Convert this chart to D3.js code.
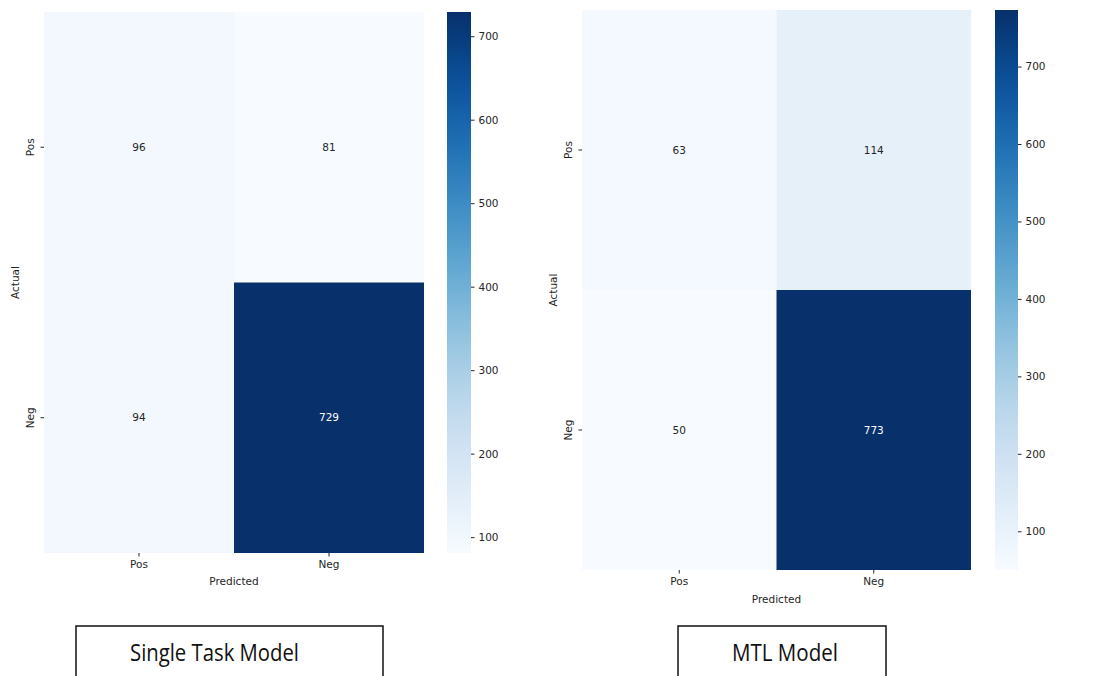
<!DOCTYPE html>
<html>
<head>
<meta charset="utf-8">
<script src="https://cdn.jsdelivr.net/npm/d3@7"></script>
<style>
  body { margin: 0; background: #fff; }
  text { font-family: "DejaVu Sans", sans-serif; }
</style>
</head>
<body>
<svg id="chart" width="1093" height="676"></svg>
<script>
// labels and confusion matrices (rows = actual, cols = predicted)
const classLabels = ["Pos", "Neg"];
const stmMatrix = [[96, 81], [94, 729]];
const mtlMatrix = [[63, 114], [50, 773]];
const cbTicks = [100, 200, 300, 400, 500, 600, 700];
const titles = ["Single Task Model", "MTL Model"];

// layout of the two panels
const panels = [
  { matrix: stmMatrix, title: titles[0], x0: 44, x1: 424, y0: 12, y1: 553, cb: [447, 471],
    box: [76, 383], titleX: 130, titleW: 169, actualX: 15, predY: 585 },
  { matrix: mtlMatrix, title: titles[1], x0: 582, x1: 971, y0: 10, y1: 570, cb: [995, 1018],
    box: [678, 886], titleX: 732, titleW: 106, actualX: 553, predY: 603 }
];

const svg = d3.select("#chart");
const defs = svg.append("defs");
const textColor = "#262626";

panels.forEach((p, i) => {
  const g = svg.append("g");
  const cells = [];
  p.matrix.forEach((row, r) => row.forEach((v, c) => cells.push({ r, c, v })));

  const x = d3.scaleBand().domain(classLabels).range([p.x0, p.x1]);
  const y = d3.scaleBand().domain(classLabels).range([p.y0, p.y1]);
  const ext = d3.extent(cells, d => d.v);
  const color = d3.scaleSequential(d3.interpolateBlues).domain(ext);

  // cells
  g.selectAll("rect.cell")
    .data(cells)
    .enter().append("rect")
    .attr("class", "cell")
    .attr("x", d => x(classLabels[d.c]))
    .attr("y", d => y(classLabels[d.r]))
    .attr("width", x.bandwidth())
    .attr("height", y.bandwidth())
    .attr("fill", d => color(d.v));

  // annotations
  g.selectAll("text.annot")
    .data(cells)
    .enter().append("text")
    .attr("class", "annot")
    .attr("x", d => x(classLabels[d.c]) + x.bandwidth() / 2)
    .attr("y", d => y(classLabels[d.r]) + y.bandwidth() / 2)
    .attr("dy", "0.35em")
    .attr("text-anchor", "middle")
    .attr("font-size", 10.5)
    .attr("fill", d => (d.v - ext[0]) / (ext[1] - ext[0]) > 0.5 ? "#fff" : textColor)
    .text(d => d.v);

  // x axis
  const xAxis = g.append("g")
    .attr("transform", `translate(0,${p.y1})`)
    .call(d3.axisBottom(x).tickSize(3.5).tickPadding(4));
  xAxis.select(".domain").remove();
  xAxis.selectAll("line").attr("stroke", textColor);
  xAxis.selectAll("text").attr("font-size", 10.5).attr("fill", textColor)
    .style("font-family", "DejaVu Sans");

  // y axis with rotated labels
  const yAxis = g.append("g")
    .attr("transform", `translate(${p.x0},0)`)
    .call(d3.axisLeft(y).tickSize(3.5));
  yAxis.select(".domain").remove();
  yAxis.selectAll("line").attr("stroke", textColor);
  yAxis.selectAll("text")
    .attr("transform", "rotate(-90)")
    .attr("x", 0)
    .attr("y", -14)
    .attr("dy", "0.35em")
    .attr("text-anchor", "middle")
    .attr("font-size", 10.5)
    .attr("fill", textColor)
    .style("font-family", "DejaVu Sans");

  // axis titles
  g.append("text")
    .attr("x", (p.x0 + p.x1) / 2)
    .attr("y", p.predY)
    .attr("text-anchor", "middle")
    .attr("font-size", 10.5)
    .attr("fill", textColor)
    .text("Predicted");
  g.append("text")
    .attr("transform", `translate(${p.actualX},${(p.y0 + p.y1) / 2}) rotate(-90)`)
    .attr("dy", "0.35em")
    .attr("text-anchor", "middle")
    .attr("font-size", 10.5)
    .attr("fill", textColor)
    .text("Actual");

  // colorbar
  const gradId = "grad" + i;
  const grad = defs.append("linearGradient")
    .attr("id", gradId)
    .attr("x1", 0).attr("y1", 1).attr("x2", 0).attr("y2", 0);
  d3.range(0, 1.0001, 0.05).forEach(t => {
    grad.append("stop")
      .attr("offset", t)
      .attr("stop-color", d3.interpolateBlues(t));
  });
  g.append("rect")
    .attr("x", p.cb[0])
    .attr("y", p.y0)
    .attr("width", p.cb[1] - p.cb[0])
    .attr("height", p.y1 - p.y0)
    .attr("fill", `url(#${gradId})`);

  const cbScale = d3.scaleLinear().domain(ext).range([p.y1, p.y0]);
  const cbAxis = g.append("g")
    .attr("transform", `translate(${p.cb[1]},0)`)
    .call(d3.axisRight(cbScale).tickValues(cbTicks).tickSize(3.5).tickPadding(4));
  cbAxis.select(".domain").remove();
  cbAxis.selectAll("line").attr("stroke", textColor);
  cbAxis.selectAll("text").attr("font-size", 10.5).attr("fill", textColor)
    .style("font-family", "DejaVu Sans");

  // title box
  g.append("rect")
    .attr("x", p.box[0])
    .attr("y", 626)
    .attr("width", p.box[1] - p.box[0])
    .attr("height", 70)
    .attr("fill", "none")
    .attr("stroke", "#111")
    .attr("stroke-width", 1.5);
  g.append("text")
    .attr("x", p.titleX)
    .attr("y", 661)
    .attr("font-size", 24)
    .attr("textLength", p.titleW)
    .attr("lengthAdjust", "spacingAndGlyphs")
    .attr("fill", "#111")
    .style("font-family", "'Open Sans', sans-serif")
    .text(p.title);
});
</script>
</body>
</html>
